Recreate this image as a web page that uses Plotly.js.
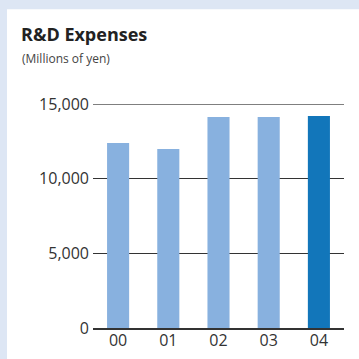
<!DOCTYPE html>
<html>
<head>
<meta charset="utf-8">
<script src="https://cdn.plot.ly/plotly-3.0.1.min.js"></script>
<style>html,body{margin:0;padding:0;background:#dde6f4;}#chart{width:359px;height:359px;}</style>
</head>
<body>
<div id="chart"></div>
<script>
var years = ['00', '01', '02', '03', '04'];
var expenses = [12390, 11990, 14130, 14130, 14200];
var barColors = ['#88b1df', '#88b1df', '#88b1df', '#88b1df', '#1276ba'];
var yTicks = [0, 5000, 10000, 15000];
var yTickLabels = ['0', '5,000', '10,000', '15,000'];

var trace = {
  type: 'bar',
  x: years,
  y: expenses,
  marker: {color: barColors},
  hoverinfo: 'skip'
};

var layout = {
  width: 359,
  height: 359,
  margin: {l: 93, r: 15, t: 104, b: 31, pad: 0},
  paper_bgcolor: '#dde6f4',
  plot_bgcolor: 'rgba(0,0,0,0)',
  bargap: 0.56,
  showlegend: false,
  font: {family: 'Open Sans, sans-serif', color: '#333333'},
  title: {
    text: 'R&D Expenses',
    xref: 'container', yref: 'container',
    x: 21/359, xanchor: 'left',
    y: 1 - 41/359, yanchor: 'bottom',
    pad: {t: 0, b: 0, l: 0, r: 0},
    font: {family: 'Open Sans, sans-serif', size: 18, weight: 'bold', color: '#222222'}
  },
  annotations: [{
    text: '(Millions of yen)',
    xref: 'paper', yref: 'paper',
    x: (20 - 93) / 251, xanchor: 'left',
    y: (327.7 - 69) / 224, yanchor: 'bottom',
    showarrow: false,
    font: {family: 'Open Sans, sans-serif', size: 12, color: '#444444'}
  }],
  xaxis: {
    type: 'category',
    showline: true,
    linecolor: '#333333',
    linewidth: 2,
    ticks: '',
    showgrid: false,
    zeroline: false,
    tickfont: {size: 16, color: '#333333'},
    ticklabelstandoff: -3,
    fixedrange: true
  },
  yaxis: {
    range: [0, 15000],
    tickvals: yTicks,
    ticktext: yTickLabels,
    ticks: '',
    showgrid: true,
    gridcolor: '#333333',
    gridwidth: 1,
    zeroline: false,
    showline: false,
    tickfont: {size: 16, color: '#333333'},
    ticklabelstandoff: 3,
    fixedrange: true
  },
  shapes: [
    {type: 'rect', xref: 'paper', yref: 'paper', x0: (7 - 93) / 251, x1: 1.2, y0: -0.3, y1: (327.7 - 9) / 224,
     fillcolor: '#ffffff', line: {width: 0}, layer: 'below'},
    {type: 'line', xref: 'paper', yref: 'y', x0: 0, x1: 1, y0: 15000, y1: 15000,
     line: {color: '#7f7f7f', width: 2}, layer: 'above'}
  ]
};

Plotly.newPlot('chart', [trace], layout, {displayModeBar: false, staticPlot: true});
</script>
</body>
</html>
